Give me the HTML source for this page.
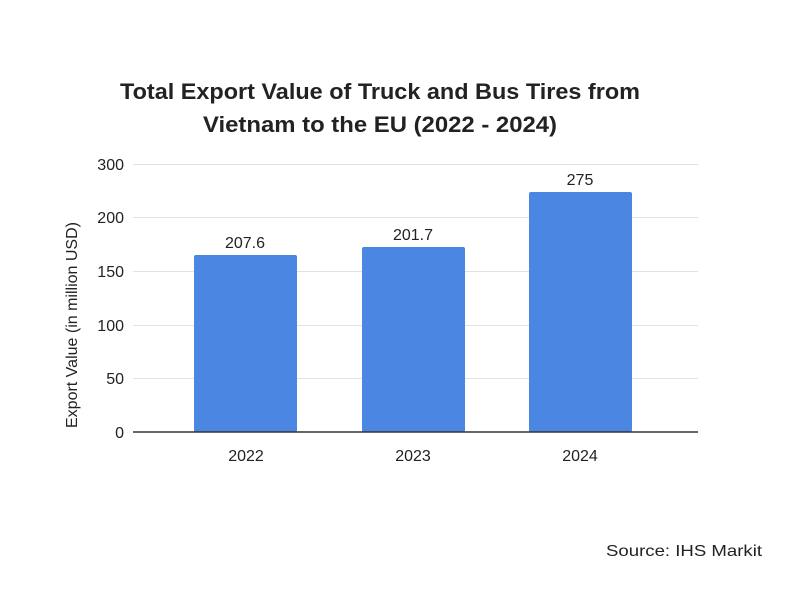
<!DOCTYPE html>
<html><head><meta charset="utf-8"><style>
html,body{margin:0;padding:0;background:#fff;}
svg{display:block;font-family:"Liberation Sans",sans-serif;}
</style></head><body>
<svg width="800" height="600" viewBox="0 0 800 600" xmlns="http://www.w3.org/2000/svg">
<rect width="800" height="600" fill="#fff"/>
<text x="380" y="99" font-size="22" font-weight="bold" fill="#222" text-anchor="middle" textLength="520" lengthAdjust="spacingAndGlyphs">Total Export Value of Truck and Bus Tires from</text>
<text x="380" y="132" font-size="22" font-weight="bold" fill="#222" text-anchor="middle" textLength="354" lengthAdjust="spacingAndGlyphs">Vietnam to the EU (2022 - 2024)</text>
<g stroke="#e2e2e2" stroke-width="1">
<line x1="133" x2="698" y1="164.5" y2="164.5"/>
<line x1="133" x2="698" y1="217.5" y2="217.5"/>
<line x1="133" x2="698" y1="271.5" y2="271.5"/>
<line x1="133" x2="698" y1="325.5" y2="325.5"/>
<line x1="133" x2="698" y1="378.5" y2="378.5"/>
</g>
<g font-size="16" fill="#222" text-anchor="end">
<text x="124" y="170">300</text>
<text x="124" y="223">200</text>
<text x="124" y="277">150</text>
<text x="124" y="331">100</text>
<text x="124" y="384">50</text>
<text x="124" y="438">0</text>
</g>
<g fill="#4a86e2">
<rect x="194" y="255" width="103" height="177" rx="2"/>
<rect x="362" y="247" width="103" height="185" rx="2"/>
<rect x="529" y="192" width="103" height="240" rx="2"/>
</g>
<line x1="133" x2="698" y1="432" y2="432" stroke="#333" stroke-width="1.5"/>
<g font-size="16" fill="#222" text-anchor="middle">
<text x="245" y="248">207.6</text>
<text x="413" y="240">201.7</text>
<text x="580" y="185">275</text>
<text x="246" y="461">2022</text>
<text x="413" y="461">2023</text>
<text x="580" y="461">2024</text>
</g>
<text transform="translate(77,325) rotate(-90)" font-size="16" fill="#222" text-anchor="middle" textLength="206" lengthAdjust="spacingAndGlyphs">Export Value (in million USD)</text>
<text x="762" y="556" font-size="16" fill="#222" text-anchor="end" textLength="156" lengthAdjust="spacingAndGlyphs">Source:  IHS Markit</text>
</svg>
</body></html>
